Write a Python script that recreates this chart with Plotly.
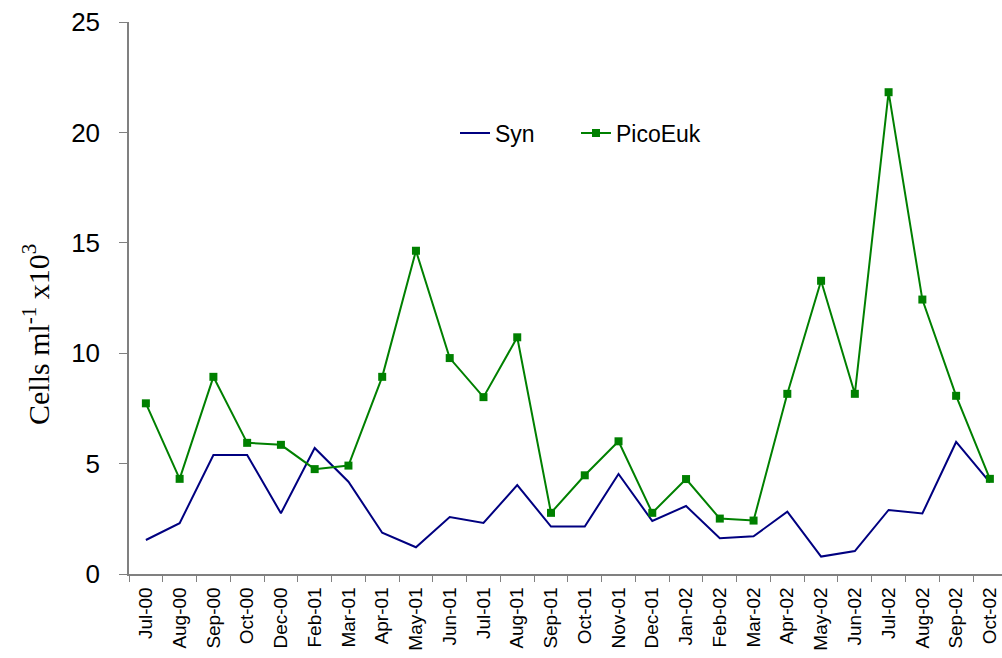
import plotly.graph_objects as go

months = ["Jul-00", "Aug-00", "Sep-00", "Oct-00", "Dec-00", "Feb-01", "Mar-01", "Apr-01",
          "May-01", "Jun-01", "Jul-01", "Aug-01", "Sep-01", "Oct-01", "Nov-01", "Dec-01",
          "Jan-02", "Feb-02", "Mar-02", "Apr-02", "May-02", "Jun-02", "Jul-02", "Aug-02",
          "Sep-02", "Oct-02"]

syn = [1.54, 2.30, 5.39, 5.39, 2.75, 5.71, 4.18, 1.87, 1.21, 2.58, 2.31, 4.03, 2.15, 2.15,
       4.53, 2.40, 3.08, 1.62, 1.71, 2.82, 0.79, 1.04, 2.90, 2.74, 5.98, 4.15]

picoeuk = [7.73, 4.31, 8.93, 5.94, 5.85, 4.75, 4.91, 8.93, 14.64, 9.78, 8.01, 10.72, 2.77,
           4.47, 6.01, 2.77, 4.30, 2.51, 2.42, 8.16, 13.28, 8.16, 21.82, 12.43, 8.07, 4.31]

yticks = [0, 5, 10, 15, 20, 25]

fig = go.Figure()
fig.add_trace(go.Scatter(x=months, y=syn, mode="lines", name="Syn", legend="legend",
                         line=dict(color="#000080", width=2)))
fig.add_trace(go.Scatter(x=months, y=picoeuk, mode="lines+markers", name="PicoEuk",
                         legend="legend2",
                         line=dict(color="#008000", width=2),
                         marker=dict(symbol="square", size=8, color="#008000")))

L, T, B = 129, 22, 84
W, H = 1002, 658
pw = W - L
ph = H - T - B

leg_common = dict(orientation="h", y=(574 - 133) / ph, xanchor="left", yanchor="middle",
                  font=dict(size=23), bgcolor="rgba(0,0,0,0)")

fig.update_layout(
    width=W, height=H,
    margin=dict(l=L, r=0, t=T, b=B, pad=0, autoexpand=False),
    paper_bgcolor="white", plot_bgcolor="white",
    font=dict(family="Liberation Sans, Arial, sans-serif", color="black"),
    showlegend=True,
    legend=dict(x=(455 - L) / pw, **leg_common),
    legend2=dict(x=(576 - L) / pw, **leg_common),
    xaxis=dict(type="category", categoryorder="array", categoryarray=months,
               range=[-0.5, -0.5 + pw / 33.76], automargin=False,
               showgrid=False, zeroline=False, showline=True, linecolor="#808080",
               linewidth=1.5, ticks="outside", ticklen=6, tickcolor="#808080",
               tickson="boundaries", tickangle=-90, tickfont=dict(size=19),
               ticklabelstandoff=4),
    yaxis=dict(range=[0, 25], tickvals=yticks, showgrid=False, zeroline=False,
               showline=True, linecolor="#808080", linewidth=1.5, automargin=False,
               ticks="outside", ticklen=8, tickcolor="#808080",
               tickfont=dict(size=26), ticklabelstandoff=14),
    annotations=[dict(text="Cells ml<sup>-1</sup> x10<sup>3</sup>", textangle=-90,
                      xref="paper", yref="paper", x=(36 - L) / pw, y=(574 - 335) / ph,
                      xanchor="center", yanchor="middle", showarrow=False,
                      font=dict(family="Liberation Serif, Times New Roman, serif", size=30))],
)

fig.write_html("out.html", config={"displayModeBar": False},
               post_script="document.body.style.margin='0';document.body.style.overflow='hidden';")
